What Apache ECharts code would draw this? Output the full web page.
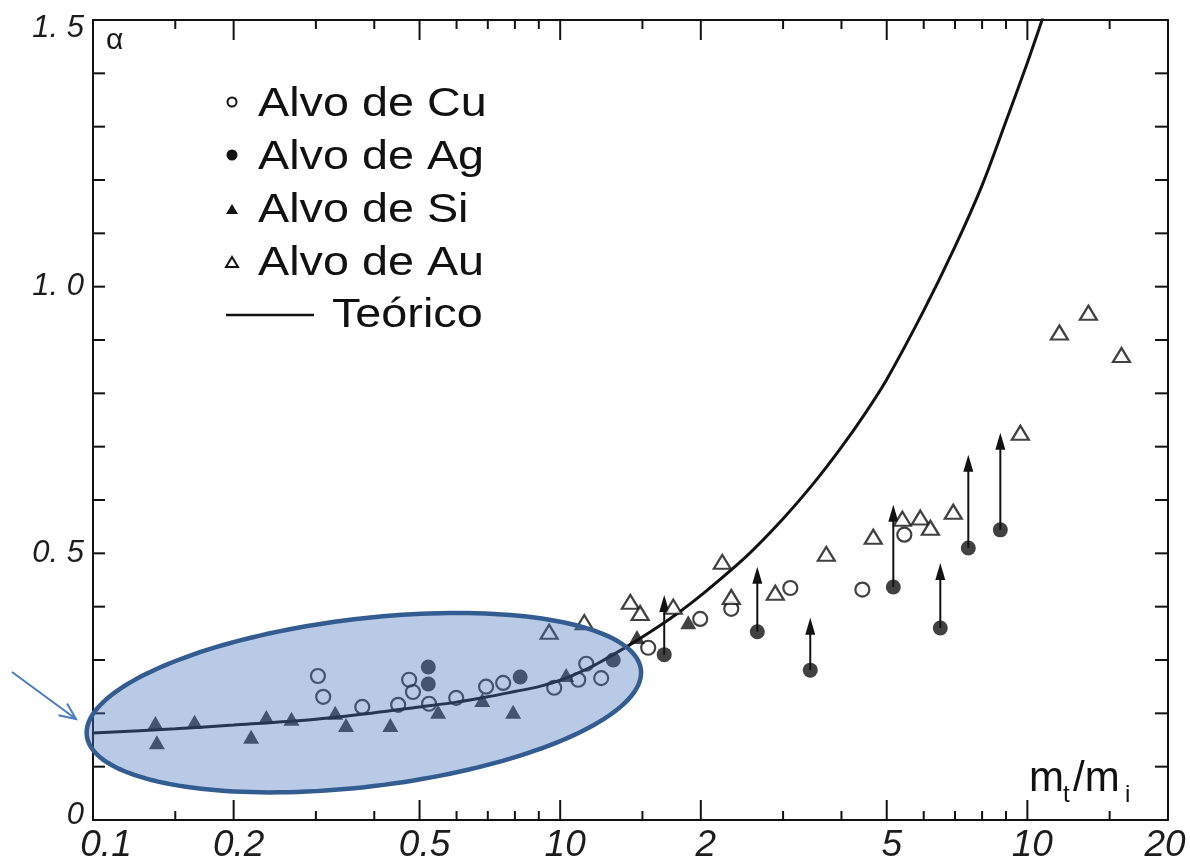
<!DOCTYPE html>
<html>
<head>
<meta charset="utf-8">
<script src="https://cdn.jsdelivr.net/npm/echarts@6/dist/echarts.min.js"></script>
<style>
  html, body { margin: 0; padding: 0; background: #ffffff; }
  #chart { width: 1190px; height: 867px; }
</style>
</head>
<body>
<div id="chart"></div>
<script>
// Axis ranges
const X_MIN = 0.1, X_MAX = 20;
const Y_MIN = 0, Y_MAX = 1.5;

// Bottom / top ticks of the logarithmic m_t/m_i axis
const xMajorTicks = [0.2, 0.5, 1, 2, 5, 10];
const xMinorTicks = [0.15, 0.3, 0.4, 0.6, 0.7, 0.8, 0.9, 1.5, 3, 4, 6, 7, 8, 9, 15];
const xLabelValues = [0.1, 0.2, 0.5, 1, 2, 5, 10, 20];
const xLabelText = ['0.1', '0.2', '0.5', '10', '2', '5', '10', '20'];

// Left / right ticks of the alpha axis
const yTicks = [0.1, 0.2, 0.3, 0.4, 0.5, 0.6, 0.7, 0.8, 0.9, 1.0, 1.1, 1.2, 1.3, 1.4];

// Cu target (open circles)
const cuX = [0.303, 0.311, 0.377, 0.450, 0.475, 0.484, 0.524, 0.599, 0.694, 0.755, 0.971, 1.093, 1.137, 1.224, 1.543, 1.994, 2.324, 3.109, 4.434, 5.453];
const cuY = [0.270, 0.231, 0.212, 0.216, 0.263, 0.240, 0.218, 0.229, 0.250, 0.257, 0.248, 0.263, 0.293, 0.266, 0.323, 0.377, 0.396, 0.435, 0.432, 0.535];

// Ag target (filled circles); agLimit = upper end of the lower-limit arrow
const agX = [0.522, 0.522, 0.821, 1.299, 1.670, 2.642, 3.430, 5.165, 6.511, 7.475, 8.753];
const agY = [0.287, 0.255, 0.268, 0.300, 0.310, 0.353, 0.281, 0.437, 0.360, 0.510, 0.544];
const agLimit = [null, null, null, null, 0.422, 0.475, 0.379, 0.591, 0.482, 0.685, 0.726];

// Si target (filled triangles)
const siX = [0.136, 0.137, 0.165, 0.218, 0.235, 0.266, 0.330, 0.348, 0.433, 0.548, 0.681, 0.793, 1.030, 1.460, 1.880];
const siY = [0.182, 0.146, 0.184, 0.156, 0.193, 0.190, 0.201, 0.178, 0.178, 0.203, 0.225, 0.203, 0.272, 0.343, 0.371];

// Au target (open triangles)
const auX = [0.947, 1.126, 1.413, 1.483, 1.746, 2.223, 2.324, 2.887, 3.712, 4.679, 5.40, 5.90, 6.20, 6.94, 9.66, 11.71, 13.51, 15.90];
const auY = [0.353, 0.371, 0.409, 0.388, 0.400, 0.484, 0.418, 0.426, 0.499, 0.531, 0.565, 0.567, 0.548, 0.578, 0.726, 0.914, 0.951, 0.872];

// Theoretical curve
const theoX = [0.1, 0.15, 0.2, 0.3, 0.4, 0.5, 0.6, 0.7, 0.8, 0.9, 1.0, 1.1, 1.2, 1.4, 1.6, 1.8, 2.0, 2.5, 3.0, 3.5, 4.0, 4.5, 5.0, 6.0, 7.0, 8.0, 9.0, 10.0, 10.8];
const theoY = [0.163, 0.171, 0.178, 0.189, 0.201, 0.212, 0.221, 0.231, 0.241, 0.250, 0.262, 0.277, 0.293, 0.327, 0.359, 0.390, 0.421, 0.494, 0.565, 0.633, 0.699, 0.763, 0.826, 0.955, 1.075, 1.190, 1.310, 1.420, 1.505];

// Legend entries
const legendNames = ['Alvo de Cu', 'Alvo de Ag', 'Alvo de Si', 'Alvo de Au', 'Teórico'];

const FONT = '"Liberation Sans", Arial, Helvetica, sans-serif';
const INK = '#121212';

const pairs = (xs, ys) => xs.map((x, i) => [x, ys[i]]);

const chart = echarts.init(document.getElementById('chart'), null, { renderer: 'canvas' });

function xTickItem(params, api) {
  const v = api.value(0);
  const len = xMajorTicks.indexOf(v) >= 0 ? 20 : 9;
  const b = api.coord([v, Y_MIN]);
  const t = api.coord([v, Y_MAX]);
  return {
    type: 'group',
    children: [
      { type: 'line', shape: { x1: b[0], y1: b[1], x2: b[0], y2: b[1] - len }, style: { stroke: INK, lineWidth: 2 } },
      { type: 'line', shape: { x1: t[0], y1: t[1], x2: t[0], y2: t[1] + len }, style: { stroke: INK, lineWidth: 2 } }
    ]
  };
}

function yTickItem(params, api) {
  const v = api.value(1);
  const l = api.coord([X_MIN, v]);
  const r = api.coord([X_MAX, v]);
  return {
    type: 'group',
    children: [
      { type: 'line', shape: { x1: l[0], y1: l[1], x2: l[0] + 12, y2: l[1] }, style: { stroke: INK, lineWidth: 2 } },
      { type: 'line', shape: { x1: r[0], y1: r[1], x2: r[0] - 13, y2: r[1] }, style: { stroke: INK, lineWidth: 2 } }
    ]
  };
}

function xLabelItem(params, api) {
  const p = api.coord([api.value(0), Y_MIN]);
  const last = xLabelText.length - 1;
  // the end labels are pulled inward so they stay inside the canvas
  const dx = params.dataIndex === 0 ? 13 : (params.dataIndex === last ? -3 : 5);
  return {
    type: 'text',
    style: {
      text: xLabelText[params.dataIndex],
      x: p[0] + dx, y: p[1] + 26,
      align: 'center', verticalAlign: 'middle',
      font: 'italic 37px ' + FONT,
      fill: '#1c1c1c'
    }
  };
}

function arrowItem(params, api) {
  const x = api.value(0);
  const p0 = api.coord([x, api.value(1)]);
  const p1 = api.coord([x, api.value(2)]);
  return {
    type: 'group',
    children: [
      { type: 'line', shape: { x1: p0[0], y1: p0[1], x2: p1[0], y2: p1[1] + 10 }, style: { stroke: INK, lineWidth: 2 } },
      { type: 'polygon', shape: { points: [[p1[0], p1[1]], [p1[0] - 5, p1[1] + 17], [p1[0] + 5, p1[1] + 17]] }, style: { fill: INK } }
    ]
  };
}

const arrowData = agX.map((x, i) => [x, agY[i], agLimit[i]]).filter(d => d[2] !== null);

chart.setOption({
  animation: false,
  backgroundColor: '#ffffff',
  grid: {
    left: 93, right: 22, top: 20, bottom: 47,
    show: true, borderColor: INK, borderWidth: 2, backgroundColor: 'transparent'
  },
  xAxis: {
    type: 'log', logBase: 10, min: X_MIN, max: X_MAX,
    axisLine: { show: false }, axisTick: { show: false },
    axisLabel: { show: false }, splitLine: { show: false }, minorTick: { show: false }
  },
  yAxis: {
    type: 'value', min: Y_MIN, max: Y_MAX, interval: 0.5,
    axisLine: { show: false }, axisTick: { show: false }, splitLine: { show: false },
    axisLabel: {
      margin: 9,
      fontFamily: FONT, fontStyle: 'italic', fontSize: 31, color: '#1c1c1c',
      formatter: function (v) {
        if (v === 0) return '{lo|0}';
        const s = v.toFixed(1).replace('.', '. ');
        return v === Y_MAX ? '{hi|' + s + '}' : s;
      },
      rich: {
        hi: { fontFamily: FONT, fontStyle: 'italic', fontSize: 31, color: '#1c1c1c', padding: [16, 0, 0, 0] },
        lo: { fontFamily: FONT, fontStyle: 'italic', fontSize: 31, color: '#1c1c1c', padding: [0, 0, 10, 0] }
      }
    }
  },
  series: [
    { type: 'custom', name: 'xticks', renderItem: xTickItem, data: xMajorTicks.concat(xMinorTicks).map(v => [v, Y_MIN]), silent: true, z: 1 },
    { type: 'custom', name: 'yticks', renderItem: yTickItem, data: yTicks.map(v => [X_MIN, v]), silent: true, z: 1 },
    { type: 'custom', name: 'xlabels', renderItem: xLabelItem, data: xLabelValues.map(v => [v, Y_MIN]), silent: true, z: 1 },
    {
      type: 'line', name: legendNames[4], data: pairs(theoX, theoY),
      smooth: 0.3, showSymbol: false, clip: true,
      lineStyle: { color: INK, width: 3 }, z: 2
    },
    { type: 'custom', name: 'limits', renderItem: arrowItem, data: arrowData, silent: true, z: 3 },
    {
      type: 'scatter', name: legendNames[0], data: pairs(cuX, cuY),
      symbol: 'circle', symbolSize: 14,
      itemStyle: { color: 'rgba(255,255,255,0)', borderColor: INK, borderWidth: 2.2 }, z: 4
    },
    {
      type: 'scatter', name: legendNames[1], data: pairs(agX, agY),
      symbol: 'circle', symbolSize: 15,
      itemStyle: { color: INK }, z: 4
    },
    {
      type: 'scatter', name: legendNames[2], data: pairs(siX, siY),
      symbol: 'triangle', symbolSize: [16, 14],
      itemStyle: { color: INK }, z: 4
    },
    {
      type: 'scatter', name: legendNames[3], data: pairs(auX, auY),
      symbol: 'triangle', symbolSize: [17, 14],
      itemStyle: { color: '#ffffff', borderColor: INK, borderWidth: 2.2 }, z: 4
    }
  ]
});

// Highlight ellipse around the low-mass-ratio region, anchored in data space
const centre = chart.convertToPixel({ gridIndex: 0 }, [0.38, 0.22]);
const semiA = 279, semiB = 84, tilt = -6.8 * Math.PI / 180;
const ellipsePts = [];
for (let k = 0; k < 180; k++) {
  const t = (k / 180) * Math.PI * 2;
  const ex = semiA * Math.cos(t), ey = semiB * Math.sin(t);
  ellipsePts.push([
    centre[0] + ex * Math.cos(tilt) - ey * Math.sin(tilt),
    centre[1] + ex * Math.sin(tilt) + ey * Math.cos(tilt)
  ]);
}

// Pointer arrow towards the left end of the curve
const curveStart = chart.convertToPixel({ gridIndex: 0 }, [theoX[0], theoY[0]]);
const tip = [curveStart[0] - 17, curveStart[1] - 14];
const tail = [tip[0] - 64, tip[1] - 47];
const ang = Math.atan2(tip[1] - tail[1], tip[0] - tail[0]);
const headL = 18, headA = 0.42;
const head1 = [tip[0] - headL * Math.cos(ang - headA), tip[1] - headL * Math.sin(ang - headA)];
const head2 = [tip[0] - headL * Math.cos(ang + headA), tip[1] - headL * Math.sin(ang + headA)];

const legendText = (txt, x, y) => ({
  type: 'text', x: x, y: y, scaleX: 1.14, z: 120,
  style: { text: txt, font: '41px ' + FONT, fill: '#111111', align: 'left', verticalAlign: 'middle' }
});

const triPts = (cx, cy, w, h) => [[cx, cy - h / 2], [cx - w / 2, cy + h / 2], [cx + w / 2, cy + h / 2]];

chart.setOption({
  graphic: {
    elements: [
      {
        type: 'polygon', z: 100,
        shape: { points: ellipsePts },
        style: { fill: 'rgba(70,115,190,0.38)', stroke: '#335C91', lineWidth: 4.5 }
      },
      {
        type: 'polyline', z: 100,
        shape: { points: [tail, tip] },
        style: { stroke: '#4A7BC0', lineWidth: 2, fill: null }
      },
      {
        type: 'polyline', z: 100,
        shape: { points: [head1, tip, head2] },
        style: { stroke: '#4A7BC0', lineWidth: 2, fill: null }
      },
      // alpha label in the top-left corner
      {
        type: 'text', x: 106, y: 41, z: 120,
        style: { text: 'α', font: '30px ' + FONT, fill: '#1a1a1a', align: 'left', verticalAlign: 'middle' }
      },
      // legend
      { type: 'circle', z: 120, shape: { cx: 232, cy: 102, r: 4.5 }, style: { fill: '#ffffff', stroke: INK, lineWidth: 2 } },
      { type: 'circle', z: 120, shape: { cx: 232, cy: 155, r: 5.5 }, style: { fill: INK } },
      { type: 'polygon', z: 120, shape: { points: triPts(232, 209, 12, 10) }, style: { fill: INK } },
      { type: 'polygon', z: 120, shape: { points: triPts(232, 262, 12, 10) }, style: { fill: '#ffffff', stroke: INK, lineWidth: 2 } },
      { type: 'line', z: 120, shape: { x1: 226, y1: 315, x2: 314, y2: 315 }, style: { stroke: INK, lineWidth: 2.6 } },
      legendText(legendNames[0], 258, 105),
      legendText(legendNames[1], 258, 158),
      legendText(legendNames[2], 258, 211),
      legendText(legendNames[3], 258, 264),
      legendText(legendNames[4], 332, 316),
      // axis title m_t / m_i
      { type: 'text', x: 1029, y: 779, z: 120, style: { text: 'm', font: '42px ' + FONT, fill: '#111111', align: 'left', verticalAlign: 'middle' } },
      { type: 'text', x: 1063, y: 795, z: 120, style: { text: 't', font: '24px ' + FONT, fill: '#111111', align: 'left', verticalAlign: 'middle' } },
      { type: 'text', x: 1073, y: 779, z: 120, style: { text: '/m', font: '42px ' + FONT, fill: '#111111', align: 'left', verticalAlign: 'middle' } },
      { type: 'text', x: 1125, y: 795, z: 120, style: { text: 'i', font: '24px ' + FONT, fill: '#111111', align: 'left', verticalAlign: 'middle' } }
    ]
  }
});
</script>
</body>
</html>
